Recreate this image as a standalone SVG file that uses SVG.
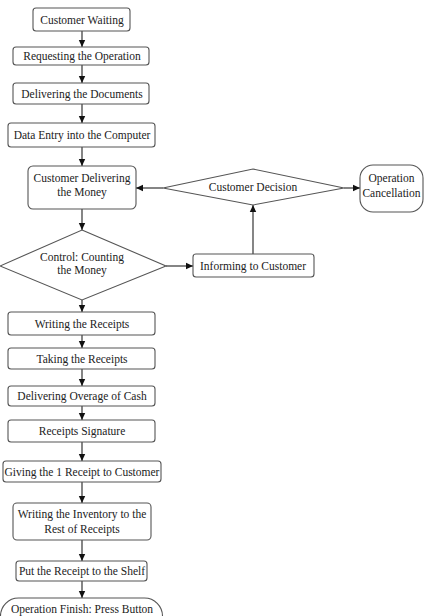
<svg xmlns="http://www.w3.org/2000/svg" width="424" height="616" viewBox="0 0 424 616">
<style>
.n{fill:#fff;stroke:#555;stroke-width:1.1}
.t{font-family:"Liberation Serif","Times New Roman",serif;font-size:11.5px;fill:#222;text-anchor:middle}
.c{stroke:#222;stroke-width:1.1;fill:none;marker-end:url(#a)}
</style>
<defs>
<marker id="a" markerWidth="8" markerHeight="8" refX="7" refY="4" orient="auto" markerUnits="userSpaceOnUse">
<path d="M0,0.8 L7,4 L0,7.2 Z" fill="#111"/>
</marker>
</defs>
<rect width="424" height="616" fill="#fff"/>
<g id="connectors">
<line class="c" x1="82" y1="31" x2="82" y2="47"/>
<line class="c" x1="82" y1="65" x2="82" y2="83"/>
<line class="c" x1="82" y1="104" x2="82" y2="123"/>
<line class="c" x1="82" y1="147" x2="82" y2="166"/>
<line class="c" x1="82" y1="209" x2="82" y2="230"/>
<line class="c" x1="82" y1="300" x2="82" y2="312"/>
<line class="c" x1="82" y1="335" x2="82" y2="348"/>
<line class="c" x1="82" y1="369" x2="82" y2="386"/>
<line class="c" x1="82" y1="406" x2="82" y2="420"/>
<line class="c" x1="82" y1="442" x2="82" y2="461"/>
<line class="c" x1="82" y1="482" x2="82" y2="503"/>
<line class="c" x1="82" y1="540" x2="82" y2="561"/>
<line class="c" x1="82" y1="581" x2="82" y2="598"/>
<line class="c" x1="166" y1="266" x2="193" y2="266"/>
<line class="c" x1="253" y1="254" x2="253" y2="205"/>
<line class="c" x1="163" y1="188" x2="136" y2="188"/>
<line class="c" x1="344" y1="188" x2="360" y2="188"/>
</g>
<g id="customer-waiting"><rect class="n" x="33" y="8" width="97" height="23" rx="3"/><text class="t" x="82" y="24">Customer Waiting</text></g>
<g id="requesting"><rect class="n" x="13" y="47" width="136" height="18" rx="3"/><text class="t" x="82" y="60">Requesting the Operation</text></g>
<g id="delivering-documents"><rect class="n" x="13" y="83" width="136" height="21" rx="3"/><text class="t" x="82" y="97.5">Delivering the Documents</text></g>
<g id="data-entry"><rect class="n" x="8" y="123" width="147" height="24" rx="3"/><text class="t" x="82" y="139">Data Entry into the Computer</text></g>
<g id="customer-delivering"><rect class="n" x="28" y="166" width="108" height="43" rx="5"/><text class="t" x="82" y="182">Customer Delivering</text><text class="t" x="82" y="196">the Money</text></g>
<g id="control"><polygon class="n" points="82,230 166,266 82,300 0,266"/><text class="t" x="82" y="261">Control: Counting</text><text class="t" x="82" y="274">the Money</text></g>
<g id="customer-decision"><polygon class="n" points="253,169 344,188 253,205 163,188"/><text class="t" x="253" y="191">Customer Decision</text></g>
<g id="operation-cancellation"><rect class="n" x="360" y="165" width="63" height="47" rx="13"/><text class="t" x="391.5" y="182">Operation</text><text class="t" x="391.5" y="197">Cancellation</text></g>
<g id="informing"><rect class="n" x="193" y="254" width="121" height="23" rx="3"/><text class="t" x="253" y="270">Informing to Customer</text></g>
<g id="writing-receipts"><rect class="n" x="8" y="312" width="147" height="23" rx="3"/><text class="t" x="82" y="328">Writing the Receipts</text></g>
<g id="taking-receipts"><rect class="n" x="8" y="348" width="147" height="21" rx="3"/><text class="t" x="82" y="363">Taking the Receipts</text></g>
<g id="delivering-overage"><rect class="n" x="8" y="386" width="147" height="20" rx="3"/><text class="t" x="82" y="400">Delivering Overage of Cash</text></g>
<g id="receipts-signature"><rect class="n" x="8" y="420" width="147" height="22" rx="3"/><text class="t" x="82" y="435">Receipts Signature</text></g>
<g id="giving-receipt"><rect class="n" x="3" y="461" width="158" height="21" rx="3"/><text class="t" x="82" y="476">Giving the 1 Receipt to Customer</text></g>
<g id="writing-inventory"><rect class="n" x="13" y="503" width="138" height="37" rx="4"/><text class="t" x="82" y="518">Writing the Inventory to the</text><text class="t" x="82" y="533">Rest of Receipts</text></g>
<g id="put-receipt"><rect class="n" x="16" y="561" width="131" height="20" rx="3"/><text class="t" x="82" y="575">Put the Receipt to the Shelf</text></g>
<g id="operation-finish"><rect class="n" x="0.5" y="598" width="162" height="40" rx="18"/><text class="t" x="82" y="612.5">Operation Finish: Press Button</text></g>
</svg>
